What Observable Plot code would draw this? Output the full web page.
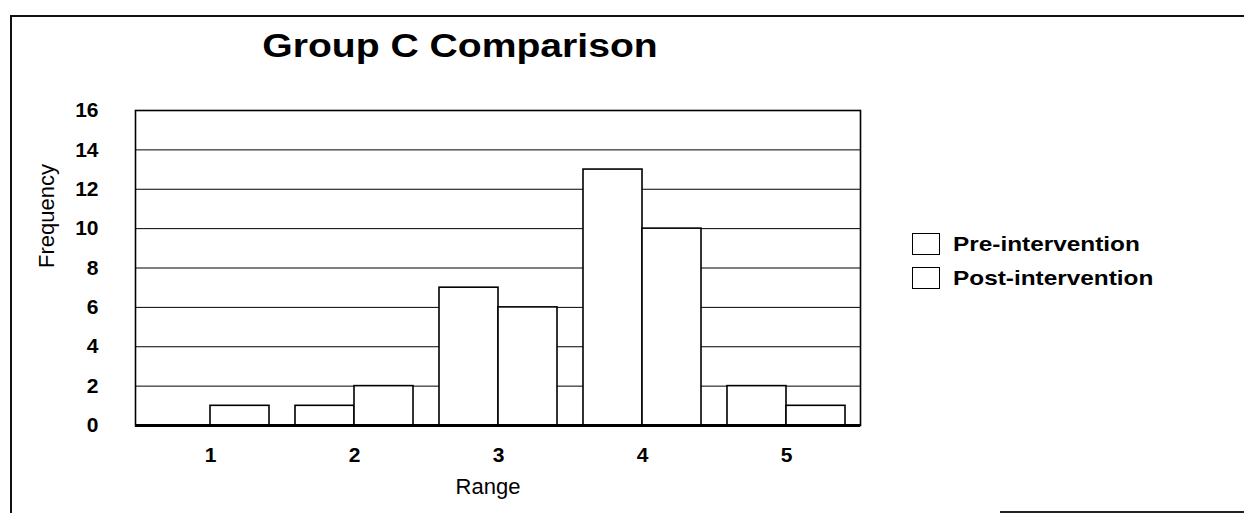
<!DOCTYPE html>
<html>
<head>
<meta charset="utf-8">
<script src="https://cdn.jsdelivr.net/npm/d3@7"></script>
<script src="https://cdn.jsdelivr.net/npm/@observablehq/plot@0.6"></script>
<style>
  html, body { margin: 0; padding: 0; background: #fff; }
  #wrap { position: relative; width: 1244px; height: 513px; overflow: hidden; font-family: "Liberation Sans", Arial, sans-serif; color: #000; }
  #border { position: absolute; left: 10px; top: 15px; right: -5px; bottom: -5px; border-left: 2px solid #111; border-top: 2px solid #111; pointer-events: none; }
  #bline { position: absolute; left: 1000px; top: 511px; width: 244px; height: 2px; background: #222; }
  #titlebox { position: relative; height: 80px; }
  #title { position: absolute; left: 160px; top: 28px; width: 600px; text-align: center; font-size: 34px; line-height: 34px; font-weight: bold; transform: scaleX(1.15); transform-origin: 50% 50%; white-space: nowrap; }
  #legend { position: absolute; left: 912px; top: 233px; }
  .lrow { display: flex; align-items: center; height: 22px; margin-bottom: 12px; }
  .sw { width: 26px; height: 20px; border: 1.5px solid #000; background: #fff; box-sizing: content-box; }
  .lt { margin-left: 13px; font-size: 21px; line-height: 22px; font-weight: bold; transform: scaleX(1.16); transform-origin: 0 50%; white-space: nowrap; }
  svg { display: block; }
</style>
</head>
<body>
<div id="wrap">
  <div id="border"></div>
  <div id="bline"></div>
  <div id="titlebox"><div id="title"></div></div>
  <div id="chart"></div>
  <div id="legend"></div>
</div>
<script>
const titleText = "Group C Comparison";
const xLabel = "Range";
const yLabel = "Frequency";
const ranges = ["1", "2", "3", "4", "5"];
const series = ["Pre-intervention", "Post-intervention"];
const preValues = [0, 1, 7, 13, 2];
const postValues = [1, 2, 6, 10, 1];
const yTicks = [0, 2, 4, 6, 8, 10, 12, 14, 16];

const data = ranges.flatMap((r, i) => [
  {range: r, series: series[0], value: preValues[i]},
  {range: r, series: series[1], value: postValues[i]}
]);

document.getElementById("title").textContent = titleText;

const W = 1244, H = 433;
const mL = 135, mR = 384, mT = 30, mB = 88;
const padInner = 0.182, padOuter = 0.104;
const band = d3.scaleBand(ranges, [mL, W - mR]).paddingInner(padInner).paddingOuter(padOuter);
const half = band.bandwidth() / 2;

const chart = Plot.plot({
  width: W,
  height: H,
  marginLeft: mL,
  marginRight: mR,
  marginTop: mT,
  marginBottom: mB,
  style: {fontFamily: "'Liberation Sans', Arial, sans-serif", fontSize: "21px", background: "transparent", color: "#000"},
  x: {domain: ranges, paddingInner: padInner, paddingOuter: padOuter},
  y: {domain: [0, 16]},
  marks: [
    Plot.ruleY(yTicks, {stroke: "#000", strokeWidth: 1}),
    Plot.barY(data.filter(d => d.series === series[0]), {x: "range", y: "value", fill: "#fff", stroke: "#000", strokeWidth: 1.6, insetRight: half}),
    Plot.barY(data.filter(d => d.series === series[1]), {x: "range", y: "value", fill: "#fff", stroke: "#000", strokeWidth: 1.6, insetLeft: half}),
    Plot.frame({stroke: "#000", strokeWidth: 1.6}),
    Plot.ruleY([0], {stroke: "#000", strokeWidth: 3}),
    Plot.axisX({tickSize: 0, tickPadding: 22, label: null, fontSize: 21, fontWeight: "bold"}),
    Plot.axisY({ticks: yTicks, tickSize: 0, tickPadding: 37, label: null, fontSize: 21, fontWeight: "bold"}),
    Plot.text([xLabel], {text: d => d, frameAnchor: "bottom", dy: 68, dx: -10, fontSize: 22, fontWeight: "normal"}),
    Plot.text([yLabel], {text: d => d, frameAnchor: "left", dx: -89, rotate: -90, fontSize: 22, fontWeight: "normal"})
  ]
});
document.getElementById("chart").appendChild(chart);

const legend = document.getElementById("legend");
for (const s of series) {
  const row = document.createElement("div");
  row.className = "lrow";
  const sw = document.createElement("div");
  sw.className = "sw";
  const t = document.createElement("span");
  t.className = "lt";
  t.textContent = s;
  row.appendChild(sw);
  row.appendChild(t);
  legend.appendChild(row);
}
</script>
</body>
</html>
